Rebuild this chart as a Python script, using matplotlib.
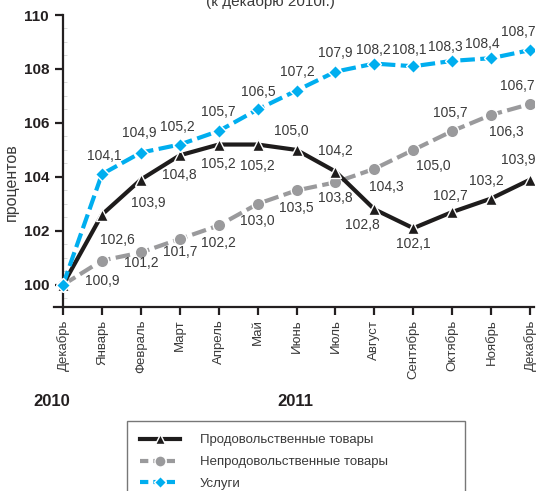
import numpy as np
import matplotlib.pyplot as plt
from matplotlib.ticker import MultipleLocator
from matplotlib.lines import Line2D

plt.rcParams['font.family'] = ['Liberation Sans', 'DejaVu Sans']

months = ["Декабрь", "Январь", "Февраль", "Март", "Апрель", "Май", "Июнь",
          "Июль", "Август", "Сентябрь", "Октябрь", "Ноябрь", "Декабрь"]
food = [100.0, 102.6, 103.9, 104.8, 105.2, 105.2, 105.0, 104.2, 102.8, 102.1, 102.7, 103.2, 103.9]
nonfood = [100.0, 100.9, 101.2, 101.7, 102.2, 103.0, 103.5, 103.8, 104.3, 105.0, 105.7, 106.3, 106.7]
services = [100.0, 104.1, 104.9, 105.2, 105.7, 106.5, 107.2, 107.9, 108.2, 108.1, 108.3, 108.4, 108.7]
names = ["Продовольственные товары", "Непродовольственные товары", "Услуги"]

# label offsets in pixels (dx, dy), first point has no label
off_food = [None, (15, -25), (7, -23), (0, -20), (0, -19), (0, -21), (-5, 19), (0, 21), (-12, -16), (0, -16), (-2, 16), (-5, 18), (-12, 20)]
off_nonfood = [None, (0, -20), (0, -11), (1, -13), (0, -18), (0, -17), (0, -18), (0, -16), (12, -18), (20, -16), (-2, 18), (15, -17), (-13, 18)]
off_serv = [None, (2, 18), (-2, 20), (-2, 18), (0, 19), (1, 17), (1, 19), (0, 19), (-1, 14), (-4, 16), (-7, 14), (-9, 14), (-12, 18)]

x = np.arange(len(months))

fig = plt.figure(figsize=(5.43, 4.91), dpi=100)
ax = fig.add_axes([54.4 / 543, 1 - 307 / 491, (534 - 54.4) / 543, (307 - 15) / 491])

c_food = '#1e1c1c'
c_non = '#9a9a9c'
c_serv = '#00aeef'
txt = '#3a3a3a'

ax.plot(x, food, color=c_food, lw=3, marker='^', ms=8, mec='white', mew=1, zorder=4)
ax.plot(x, nonfood, color=c_non, lw=3, dashes=(3.5, 1.3), marker='o', ms=9, mec='white', mew=1, zorder=3)
ax.plot(x, services, color=c_serv, lw=3, dashes=(3.5, 1.3), marker='D', ms=7, mec='white', mew=1, zorder=5)

for vals, offs in [(food, off_food), (nonfood, off_nonfood), (services, off_serv)]:
    for i, v in enumerate(vals):
        if offs[i] is None:
            continue
        ax.annotate(f"{v:.1f}".replace('.', ','), (x[i], v), xytext=offs[i],
                    textcoords='offset pixels', ha='center', va='center',
                    fontsize=10, color=txt, zorder=6)

ax.set_xlim(-0.22, 12.1)
ax.set_ylim(99.18, 110)
ax.spines['top'].set_visible(False)
ax.spines['right'].set_visible(False)
ax.spines['left'].set_position(('data', 0))
ax.spines['left'].set_bounds(99.18, 110)
for s in ['left', 'bottom']:
    ax.spines[s].set_linewidth(1.6)
    ax.spines[s].set_color('#231f20')

ax.set_yticks(np.arange(100, 111, 2))
ax.set_yticklabels([str(v) for v in range(100, 111, 2)], fontsize=11, fontweight='bold', color='#231f20')
ax.yaxis.set_minor_locator(MultipleLocator(0.5))
ax.tick_params(axis='y', which='major', direction='out', length=6, width=1.6, color='#231f20', pad=4)
ax.tick_params(axis='y', which='minor', direction='in', length=3, width=0.5, color='#cccccc')
ax.set_xticks(x)
ax.set_xticklabels(months, rotation=90, fontsize=9.5, color=txt)
ax.tick_params(axis='x', direction='out', length=6, width=1.6, color='#231f20', pad=3)

fig.text(11 / 543, 1 - 182 / 491, "процентов", rotation=90, ha='center', va='center', fontsize=11.5, color=txt)
fig.text(52 / 543, 1 - 401 / 491, "2010", ha='center', va='center', fontsize=12, fontweight='bold', color='#231f20')
fig.text(295 / 543, 1 - 401 / 491, "2011", ha='center', va='center', fontsize=12, fontweight='bold', color='#231f20')
fig.text(270 / 543, 1 - 6 / 491, "(к декабрю 2010г.)", ha='center', va='baseline', fontsize=11, color=txt)

handles = [
    Line2D([], [], color=c_food, lw=3, marker='^', ms=7, mec='white', mew=1),
    Line2D([], [], color=c_non, lw=3, dashes=(2, 1.2), marker='o', ms=8, mec='white', mew=1),
    Line2D([], [], color=c_serv, lw=3, dashes=(2, 1.2), marker='D', ms=6, mec='white', mew=1),
]
leg = fig.legend(handles, names, loc='upper left',
                 bbox_to_anchor=(127 / 543, 1 - 421 / 491, (465 - 127) / 543, 0),
                 mode='expand', fontsize=9.5, frameon=True, fancybox=False,
                 handlelength=3.0, handletextpad=1.5, labelspacing=0.72,
                 borderpad=1.0, borderaxespad=0)
leg.get_frame().set_edgecolor('#555555')
leg.get_frame().set_linewidth(1.0)
for t in leg.get_texts():
    t.set_color(txt)

fig.savefig("out.png", dpi=100)
